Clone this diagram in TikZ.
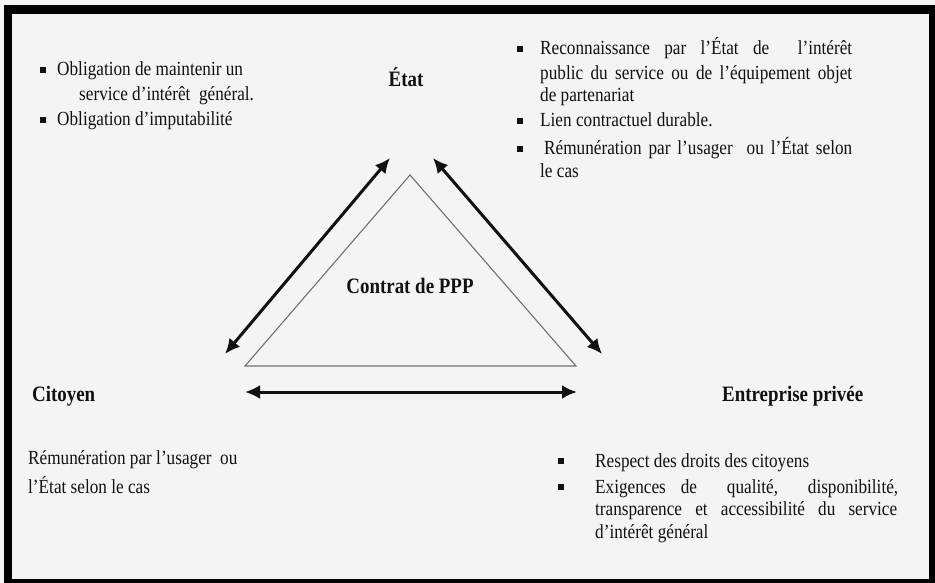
\documentclass[tikz,border=0pt]{standalone}
\usepackage{fontspec}
\setmainfont{Liberation Serif}[FakeStretch=0.86]
\usetikzlibrary{arrows.meta}
\definecolor{bg}{HTML}{F4F4F4}
\definecolor{ink}{HTML}{111111}
\definecolor{trigray}{HTML}{707070}
\tikzset{
  txt/.style={font=\fontsize{20}{25}\selectfont, inner sep=0pt, anchor=base west, text=ink},
  ttl/.style={font=\bfseries\fontsize{22}{26}\selectfont, inner sep=0pt, text=ink},
  bul/.style={fill=ink, minimum size=5.2pt, inner sep=0pt},
  link/.style={line width=3pt, draw=ink, {Latex[length=15pt,width=14pt]}-{Latex[length=15pt,width=14pt]}},
  tri/.style={draw=trigray, line width=1.1pt, line join=miter}
}
\begin{document}
\begin{tikzpicture}[x=1pt,y=-1pt]
\useasboundingbox (0,0) rectangle (935,583);
% background and frame
\fill[bg] (0,0) rectangle (935,583);
\fill[black] (4,5) rectangle (940,590);
\fill[bg] (12,14) rectangle (929,579);

% top-left block
\node[bul] (bl1) at (43,70) {};
\node[txt] (tl1) at (57,75.7) {Obligation de maintenir un};
\node[txt] (tl2) at (79,100.5) {service d’intérêt\ \ général.};
\node[bul] (bl2) at (43,120) {};
\node[txt] (tl3) at (57,125.7) {Obligation d’imputabilité};

% titles
\node[ttl, anchor=base] (etat) at (406,87) {État};
\node[ttl, anchor=base] (ppp) at (410,293) {Contrat de PPP};
\node[ttl, anchor=base west] (cit) at (32,401.7) {Citoyen};
\node[ttl, anchor=base west] (ent) at (722,401.7) {Entreprise privée};

% top-right block
\node[bul] (br1) at (520,49) {};
\node[txt] (tr1) at (540,55) {\makebox[312pt][s]{Reconnaissance par l’État de\ \ l’intérêt}};
\node[txt] (tr2) at (540,80) {\makebox[312pt][s]{public du service ou de l’équipement objet}};
\node[txt] (tr3) at (540,101.7) {de partenariat};
\node[bul] (br2) at (520,121) {};
\node[txt] (tr4) at (540,126.7) {Lien contractuel durable.};
\node[bul] (br3) at (520,149) {};
\node[txt] (tr5) at (544,155) {\makebox[308pt][s]{Rémunération par l’usager\ \ ou l’État selon}};
\node[txt] (tr6) at (540,178) {le cas};

% bottom-left block
\node[txt] (bl1t) at (28,464) {Rémunération par l’usager\ \ ou};
\node[txt] (bl2t) at (28,493) {l’État selon le cas};

% bottom-right block
\node[bul] (bb1) at (561,461) {};
\node[txt] (br1t) at (595,467) {Respect des droits des citoyens};
\node[bul] (bb2) at (561,487) {};
\node[txt] (br2t) at (595,493) {\makebox[303pt][s]{Exigences de\ \ qualité,\ \ disponibilité,}};
\node[txt] (br3t) at (595,515) {\makebox[302pt][s]{transparence et accessibilité du service}};
\node[txt] (br4t) at (595,538) {d’intérêt général};

% triangle
\coordinate (tA) at (410,175);
\coordinate (tB) at (245,366);
\coordinate (tC) at (576,366);
\draw[tri] (tA) -- (tB) -- (tC) -- cycle;

% arrows
\coordinate (aL1) at (225,354);
\coordinate (aL2) at (390,158);
\coordinate (aR1) at (433,158);
\coordinate (aR2) at (602,354);
\coordinate (aH1) at (245,392);
\coordinate (aH2) at (577,392);
\draw[link] (aL1) -- (aL2);
\draw[link] (aR1) -- (aR2);
\draw[link] (aH1) -- (aH2);
\end{tikzpicture}
\end{document}
